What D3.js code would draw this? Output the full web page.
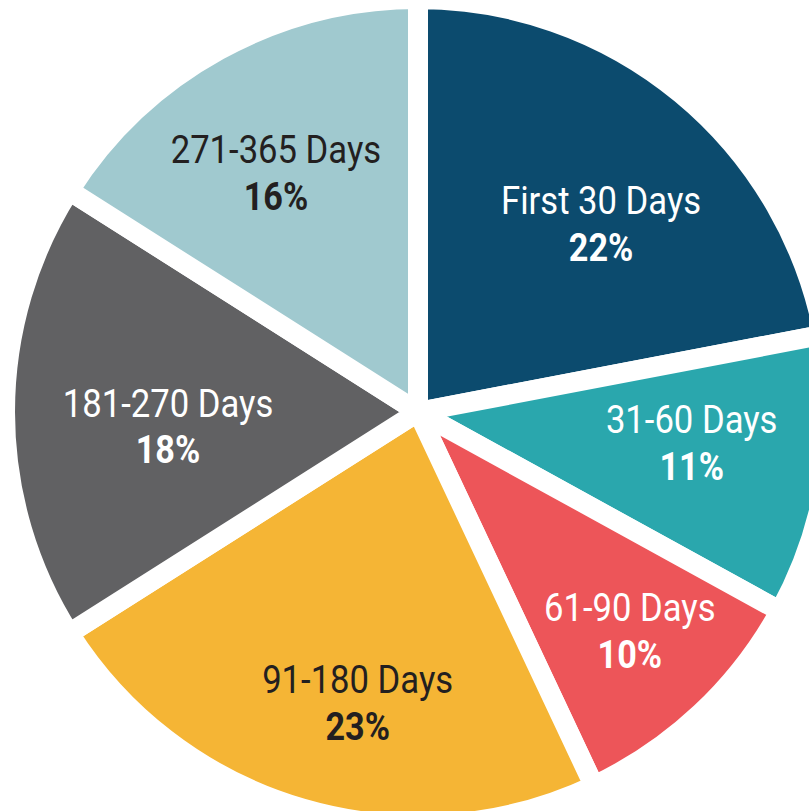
<!DOCTYPE html>
<html>
<head>
<meta charset="utf-8">
<script src="https://cdn.jsdelivr.net/npm/d3@7"></script>
<style>
  html, body { margin: 0; padding: 0; background: #ffffff; }
  svg { display: block; }
  text { font-family: Roboto, "Noto Sans", sans-serif; }
</style>
</head>
<body>
<svg id="chart" width="809" height="811"></svg>
<script>
// ---- data ----
const categories = ["First 30 Days", "31-60 Days", "61-90 Days", "91-180 Days", "181-270 Days", "271-365 Days"];
const values = [22, 11, 10, 23, 18, 16];
const percentLabels = ["22%", "11%", "10%", "23%", "18%", "16%"];

// ---- styling / layout (not data) ----
const sliceColors = ["#0c4b6e", "#2aa7ad", "#ed5559", "#f5b535", "#616163", "#a0c9cf"];
const textColors = ["#ffffff", "#ffffff", "#ffffff", "#231f20", "#ffffff", "#231f20"];
const labelNudgeX = [11, 7, 27, 15, 20, -12];
const labelNudgeY = [20, -12, 22, 31, 14, -3];

const W = 809, H = 811;
const cx = 418, cy = 412;
const outerR = 413;     // path radius; white stroke trims 10px
const gap = 20;
const labelR = 270;

const svg = d3.select("#chart");
const g = svg.append("g").attr("transform", `translate(${cx},${cy})`);

const pie = d3.pie().sort(null).value(d => d.value);
const data = categories.map((c, i) => ({ cat: c, value: values[i], pct: percentLabels[i], i }));
const arcs = pie(data);

const arc = d3.arc().innerRadius(0).outerRadius(outerR);
const labelArc = d3.arc().innerRadius(labelR).outerRadius(labelR);

g.selectAll("path.slice")
  .data(arcs)
  .join("path")
  .attr("class", "slice")
  .attr("d", arc)
  .attr("fill", d => sliceColors[d.data.i])
  .attr("stroke", "#ffffff")
  .attr("stroke-width", gap)
  .attr("stroke-linejoin", "miter")
  .attr("stroke-miterlimit", 10);

const labels = g.selectAll("g.label")
  .data(arcs)
  .join("g")
  .attr("class", "label")
  .attr("transform", d => {
    const [x, y] = labelArc.centroid(d);
    return `translate(${x + labelNudgeX[d.data.i]},${y + labelNudgeY[d.data.i]}) scale(0.9,1)`;
  });

labels.append("text")
  .attr("text-anchor", "middle")
  .attr("y", -9.5)
  .attr("font-size", 38.5)
  .attr("font-weight", 400)
  .attr("fill", d => textColors[d.data.i])
  .text(d => d.data.cat);

labels.append("text")
  .attr("text-anchor", "middle")
  .attr("y", 37.5)
  .attr("font-size", 38)
  .attr("font-weight", 700)
  .attr("fill", d => textColors[d.data.i])
  .text(d => d.data.pct);
</script>
</body>
</html>
